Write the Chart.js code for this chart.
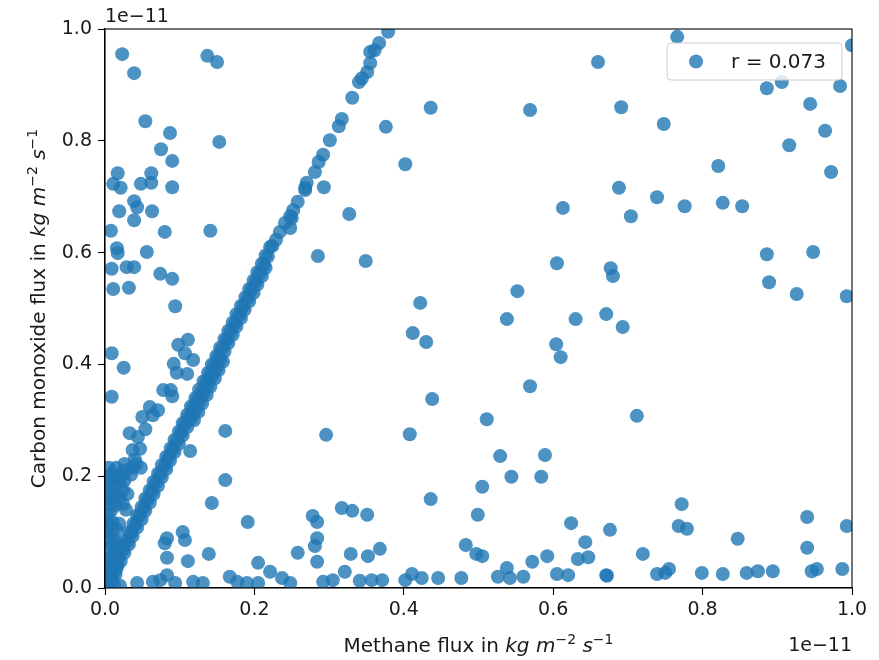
<!DOCTYPE html>
<html>
<head>
<meta charset="utf-8">
<script src="https://cdn.jsdelivr.net/npm/chart.js@4.4.1/dist/chart.umd.min.js"></script>
<style>
  html, body { margin: 0; padding: 0; background: #fff; }
  #wrap { width: 879px; height: 660px; position: relative; }
</style>
</head>
<body>
<div id="wrap"><canvas id="flux-scatter"></canvas></div>
<script>
// fluxes are stored in units of 1e-11 kg m-2 s-1
const SCALE = 1e-11;
const xTicks = [0, 0.2, 0.4, 0.6, 0.8, 1.0];
const yTicks = [0, 0.2, 0.4, 0.6, 0.8, 1.0];
const offsetText = '1e\u221211';
const legendLabel = 'r = 0.073';

const xTitle = [
    { t: 'Methane flux in ' }, { t: 'kg', it: true }, { t: ' ' }, { t: 'm', it: true },
    { t: '\u22122', sup: true }, { t: ' ' }, { t: 's', it: true }, { t: '\u22121', sup: true }
];
const yTitle = [
    { t: 'Carbon monoxide flux in ' }, { t: 'kg', it: true }, { t: ' ' }, { t: 'm', it: true },
    { t: '\u22122', sup: true }, { t: ' ' }, { t: 's', it: true }, { t: '\u22121', sup: true }
];

// [methane, carbon monoxide] — the run of cells where CO tracks CH4 closely
const diagonalPairs = [
    [0.001, 0.010], [0.004, 0.025], [0.010, 0.040], [0.015, 0.055], [0.021, 0.070], [0.026, 0.085],
    [0.032, 0.100], [0.038, 0.115], [0.043, 0.130], [0.049, 0.145], [0.054, 0.160], [0.060, 0.175],
    [0.065, 0.190], [0.071, 0.205], [0.076, 0.220], [0.082, 0.235], [0.088, 0.250], [0.093, 0.265],
    [0.099, 0.280], [0.104, 0.295], [0.110, 0.310], [0.115, 0.325], [0.121, 0.340], [0.126, 0.355],
    [0.132, 0.370], [0.138, 0.385], [0.143, 0.400], [0.149, 0.415], [0.154, 0.430], [0.160, 0.445],
    [0.165, 0.460], [0.171, 0.475], [0.176, 0.490], [0.182, 0.505], [0.188, 0.520], [0.193, 0.535],
    [0.199, 0.550], [0.204, 0.565], [0.210, 0.580], [0.215, 0.595], [0.221, 0.610],
    [0.002, 0.008], [0.007, 0.023], [0.013, 0.038], [0.018, 0.053], [0.024, 0.068], [0.030, 0.083],
    [0.035, 0.098], [0.041, 0.113], [0.046, 0.128], [0.052, 0.143], [0.057, 0.158], [0.063, 0.173],
    [0.068, 0.188], [0.074, 0.203], [0.080, 0.218], [0.085, 0.233], [0.091, 0.248], [0.096, 0.263],
    [0.102, 0.278], [0.107, 0.293], [0.113, 0.308], [0.118, 0.323], [0.124, 0.338], [0.130, 0.353],
    [0.135, 0.368], [0.141, 0.383], [0.146, 0.398], [0.152, 0.413], [0.157, 0.428], [0.163, 0.443],
    [0.168, 0.458], [0.174, 0.473], [0.180, 0.488], [0.185, 0.503], [0.191, 0.518], [0.196, 0.533],
    [0.202, 0.548], [0.207, 0.563], [0.213, 0.578], [0.218, 0.593],
    [0.004, 0.003], [0.010, 0.018], [0.015, 0.033], [0.021, 0.048], [0.026, 0.063], [0.032, 0.078],
    [0.037, 0.093], [0.043, 0.108], [0.049, 0.123], [0.054, 0.138], [0.060, 0.153], [0.065, 0.168],
    [0.071, 0.183], [0.076, 0.198], [0.082, 0.213], [0.087, 0.228], [0.093, 0.243], [0.099, 0.258],
    [0.104, 0.273], [0.110, 0.288], [0.115, 0.303], [0.121, 0.318], [0.126, 0.333], [0.132, 0.348],
    [0.137, 0.363], [0.143, 0.378], [0.149, 0.393], [0.154, 0.408], [0.160, 0.423], [0.165, 0.438],
    [0.171, 0.453], [0.176, 0.468], [0.182, 0.483], [0.187, 0.498], [0.193, 0.513], [0.199, 0.528],
    [0.204, 0.543], [0.210, 0.558], [0.215, 0.573],
    [0.119, 0.300], [0.125, 0.315], [0.130, 0.330], [0.136, 0.345], [0.141, 0.360], [0.147, 0.375],
    [0.152, 0.390], [0.158, 0.405],
    [0.224, 0.612], [0.229, 0.623], [0.234, 0.637], [0.248, 0.644], [0.241, 0.653], [0.250, 0.662],
    [0.248, 0.665], [0.252, 0.676], [0.258, 0.691], [0.268, 0.712], [0.268, 0.716], [0.270, 0.725],
    [0.281, 0.744], [0.286, 0.762], [0.292, 0.775], [0.301, 0.801], [0.313, 0.826], [0.317, 0.839],
    [0.331, 0.877], [0.340, 0.905], [0.344, 0.912], [0.351, 0.923], [0.355, 0.939], [0.355, 0.959],
    [0.361, 0.962], [0.367, 0.975], [0.379, 0.995]
];

// cells with very low methane and a spread of CO
const leftClusterPairs = [
    [0.004, 0.010], [0.012, 0.006], [0.020, 0.004], [0.006, 0.030], [0.014, 0.024], [0.004, 0.050],
    [0.012, 0.045], [0.005, 0.070], [0.014, 0.065], [0.004, 0.090], [0.013, 0.085], [0.006, 0.110],
    [0.015, 0.105], [0.004, 0.130], [0.005, 0.150], [0.013, 0.148], [0.024, 0.150], [0.028, 0.140],
    [0.006, 0.170], [0.016, 0.166], [0.030, 0.168], [0.008, 0.190], [0.020, 0.188], [0.013, 0.181],
    [0.024, 0.175], [0.010, 0.205], [0.022, 0.205], [0.015, 0.215], [0.020, 0.199], [0.029, 0.211],
    [0.037, 0.215], [0.042, 0.222], [0.035, 0.203],
    [0.008, 0.018], [0.002, 0.040], [0.009, 0.058], [0.017, 0.040], [0.019, 0.075], [0.009, 0.078],
    [0.002, 0.100], [0.010, 0.097], [0.019, 0.115], [0.010, 0.118], [0.002, 0.120], [0.009, 0.140],
    [0.002, 0.160], [0.011, 0.160], [0.020, 0.160], [0.003, 0.180], [0.003, 0.198], [0.017, 0.195],
    [0.026, 0.192], [0.005, 0.215], [0.026, 0.222], [0.048, 0.215], [0.040, 0.230],
    [0.037, 0.247], [0.047, 0.249], [0.044, 0.270], [0.033, 0.277], [0.054, 0.284], [0.050, 0.306],
    [0.064, 0.309], [0.071, 0.318], [0.060, 0.324], [0.090, 0.343], [0.009, 0.342], [0.078, 0.354],
    [0.088, 0.354], [0.096, 0.385], [0.110, 0.383], [0.025, 0.394], [0.092, 0.401], [0.118, 0.408],
    [0.107, 0.420], [0.009, 0.420], [0.098, 0.435], [0.111, 0.444],
    [0.094, 0.504], [0.011, 0.535], [0.032, 0.537], [0.090, 0.553], [0.074, 0.562], [0.009, 0.571],
    [0.029, 0.574], [0.039, 0.574], [0.017, 0.599], [0.016, 0.608], [0.056, 0.601], [0.008, 0.639],
    [0.080, 0.637], [0.141, 0.639], [0.039, 0.658], [0.019, 0.674], [0.063, 0.674], [0.043, 0.681],
    [0.039, 0.692], [0.021, 0.716], [0.090, 0.717], [0.011, 0.723], [0.048, 0.723], [0.062, 0.725],
    [0.017, 0.742], [0.062, 0.742], [0.090, 0.764], [0.075, 0.785], [0.153, 0.798], [0.087, 0.814],
    [0.054, 0.835], [0.039, 0.921], [0.150, 0.941], [0.137, 0.952], [0.023, 0.955]
];

// everything else
const scatterPairs = [
    [0.043, 0.009], [0.064, 0.011], [0.074, 0.014], [0.083, 0.023], [0.094, 0.009], [0.118, 0.011],
    [0.131, 0.009], [0.167, 0.020], [0.177, 0.011], [0.190, 0.009], [0.205, 0.009], [0.237, 0.018],
    [0.221, 0.029], [0.205, 0.045], [0.248, 0.009], [0.292, 0.011], [0.305, 0.014], [0.321, 0.029],
    [0.341, 0.013], [0.357, 0.014], [0.371, 0.014], [0.402, 0.014], [0.411, 0.025], [0.424, 0.018],
    [0.446, 0.018], [0.477, 0.018], [0.526, 0.020], [0.538, 0.036], [0.542, 0.018], [0.560, 0.020],
    [0.083, 0.054], [0.111, 0.048], [0.139, 0.061], [0.080, 0.080], [0.083, 0.089], [0.107, 0.086],
    [0.104, 0.100], [0.191, 0.118], [0.143, 0.152], [0.161, 0.193], [0.114, 0.245], [0.161, 0.281],
    [0.258, 0.063], [0.284, 0.047], [0.281, 0.075], [0.284, 0.089], [0.278, 0.129], [0.284, 0.118],
    [0.317, 0.143], [0.331, 0.138], [0.351, 0.131], [0.329, 0.061], [0.352, 0.057], [0.368, 0.070],
    [0.483, 0.077], [0.497, 0.061], [0.505, 0.057], [0.572, 0.047], [0.592, 0.057], [0.643, 0.082],
    [0.633, 0.052], [0.647, 0.055], [0.605, 0.025], [0.620, 0.023], [0.436, 0.159], [0.499, 0.131],
    [0.624, 0.116], [0.505, 0.181], [0.544, 0.199], [0.584, 0.199], [0.529, 0.236], [0.589, 0.238],
    [0.296, 0.274], [0.408, 0.275], [0.511, 0.302], [0.438, 0.338], [0.569, 0.361], [0.610, 0.413],
    [0.604, 0.436], [0.412, 0.456], [0.430, 0.440], [0.538, 0.481], [0.630, 0.481], [0.422, 0.510],
    [0.552, 0.531], [0.605, 0.581], [0.285, 0.594], [0.349, 0.585], [0.327, 0.669], [0.613, 0.680],
    [0.293, 0.717], [0.402, 0.758], [0.376, 0.825], [0.436, 0.859], [0.569, 0.855],
    [0.766, 0.986], [0.660, 0.941], [1.000, 0.971], [0.886, 0.894], [0.906, 0.905], [0.984, 0.898],
    [0.944, 0.866], [0.964, 0.818], [0.916, 0.792], [0.691, 0.860], [0.748, 0.830], [0.821, 0.755],
    [0.972, 0.744], [0.688, 0.716], [0.739, 0.699], [0.776, 0.683], [0.827, 0.689], [0.853, 0.683],
    [0.704, 0.665], [0.886, 0.597], [0.948, 0.601], [0.677, 0.572], [0.680, 0.558], [0.889, 0.547],
    [0.926, 0.526], [0.993, 0.522], [0.671, 0.490], [0.693, 0.467], [0.712, 0.308],
    [0.772, 0.150], [0.940, 0.127], [0.768, 0.111], [0.779, 0.106], [0.676, 0.104], [0.993, 0.111],
    [0.847, 0.088], [0.720, 0.061], [0.940, 0.072], [0.671, 0.023], [0.672, 0.022], [0.739, 0.025],
    [0.750, 0.027], [0.755, 0.034], [0.799, 0.027], [0.827, 0.025], [0.859, 0.027], [0.874, 0.030],
    [0.894, 0.030], [0.946, 0.030], [0.953, 0.034], [0.987, 0.034]
];

const FONT = 'DejaVu Sans';
const FONT_SIZE = 19;
const LABEL_SIZE = 20;
const TEXT = '#1a1a1a';
const DOT = 'rgba(31, 119, 180, 0.8)';

const toPoints = (pairs) => pairs.map(([x, y]) => ({ x: x * SCALE, y: y * SCALE }));

// mathtext-like label: plain text, italic units and raised exponents
function partFont(p) {
    const size = p.sup ? Math.round(LABEL_SIZE * 0.7) : LABEL_SIZE;
    return (p.it ? 'italic ' : '') + size + 'px "' + FONT + '"';
}
function drawLabel(ctx, parts, x, y) {
    let total = 0;
    parts.forEach((p) => {
        ctx.font = partFont(p);
        p.w = ctx.measureText(p.t).width;
        total += p.w;
    });
    let cx = x - total / 2;
    parts.forEach((p) => {
        ctx.font = partFont(p);
        ctx.fillText(p.t, cx, p.sup ? y - 8 : y);
        cx += p.w;
    });
}

const decorations = {
    id: 'decorations',
    afterDraw(chart) {
        const { ctx, chartArea: a } = chart;
        ctx.save();
        // frame on all four sides
        ctx.strokeStyle = '#000';
        ctx.lineWidth = 1.1;
        ctx.strokeRect(a.left, a.top, a.right - a.left, a.bottom - a.top);

        ctx.fillStyle = TEXT;
        ctx.textBaseline = 'alphabetic';
        ctx.textAlign = 'left';
        drawLabel(ctx, xTitle, (a.left + a.right) / 2, 652);

        ctx.save();
        ctx.translate(45, (a.top + a.bottom) / 2);
        ctx.rotate(-Math.PI / 2);
        drawLabel(ctx, yTitle, 0, 0);
        ctx.restore();

        // offset text for both axes
        ctx.font = FONT_SIZE + 'px "' + FONT + '"';
        ctx.textAlign = 'left';
        ctx.fillText(offsetText, a.left, 22);
        ctx.textAlign = 'right';
        ctx.fillText(offsetText, a.right, 651);

        // legend box, upper right
        ctx.font = LABEL_SIZE + 'px "' + FONT + '"';
        const label = chart.data.datasets[0].label;
        const tw = ctx.measureText(label).width;
        const w = tw + 80, h = 37;
        const bx = a.right - 10 - w, by = a.top + 14;
        ctx.beginPath();
        ctx.roundRect(bx, by, w, h, 4);
        ctx.fillStyle = 'rgba(255,255,255,0.8)';
        ctx.fill();
        ctx.strokeStyle = '#cccccc';
        ctx.lineWidth = 1;
        ctx.stroke();
        ctx.beginPath();
        ctx.arc(bx + 29, by + h / 2, 7, 0, Math.PI * 2);
        ctx.fillStyle = DOT;
        ctx.fill();
        ctx.fillStyle = TEXT;
        ctx.textAlign = 'left';
        ctx.textBaseline = 'middle';
        ctx.fillText(label, bx + 64, by + h / 2 + 1);
        ctx.restore();
    }
};

const axisCommon = (ticks) => ({
    type: 'linear',
    min: 0,
    max: SCALE,
    afterBuildTicks: (scale) => { scale.ticks = ticks.map((v) => ({ value: v * SCALE })); },
    grid: { drawOnChartArea: false, drawTicks: true, tickLength: 7, tickColor: '#000', tickWidth: 1.1 },
    border: { display: true, color: '#000', width: 1.1 },
    ticks: {
        color: TEXT,
        font: { family: FONT, size: FONT_SIZE },
        maxRotation: 0,
        autoSkip: false,
        callback: (v) => (v / SCALE).toFixed(1)
    }
});

const xAxis = axisCommon(xTicks);
xAxis.ticks.padding = 4;
xAxis.afterFit = (s) => { s.height = 72; };
const yAxis = axisCommon(yTicks);
yAxis.ticks.padding = 6;
yAxis.afterFit = (s) => { s.width = 105; };

new Chart(document.getElementById('flux-scatter'), {
    type: 'scatter',
    data: {
        datasets: [{
            label: legendLabel,
            data: toPoints(diagonalPairs).concat(toPoints(leftClusterPairs), toPoints(scatterPairs)),
            pointRadius: 7,
            pointHoverRadius: 7,
            pointBorderWidth: 0,
            backgroundColor: DOT,
            borderColor: DOT,
            clip: 0
        }]
    },
    options: {
        responsive: true,
        maintainAspectRatio: false,
        animation: false,
        layout: { padding: { top: 29, right: 27, left: 0, bottom: 0 } },
        scales: { x: xAxis, y: yAxis },
        plugins: {
            legend: { display: false },
            tooltip: { enabled: false }
        }
    },
    plugins: [decorations]
});
</script>
</body>
</html>
